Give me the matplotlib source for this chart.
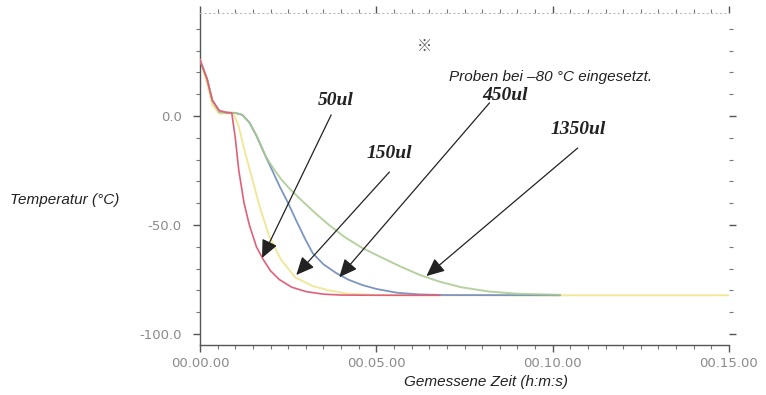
import matplotlib
matplotlib.use("Agg")
import matplotlib.pyplot as plt
from matplotlib.ticker import FixedLocator, MultipleLocator, FuncFormatter

# ---- data (time in minutes, temperature in °C) ----
t_50 = [0, 0.2, 0.35, 0.55, 0.75, 0.9, 1.0, 1.1, 1.25, 1.4, 1.6, 1.8, 2.0, 2.25, 2.6, 3.0, 3.5, 4.0, 5.0, 6.8]
T_50 = [25.7, 17, 7, 2.5, 1.6, 1.4, -10, -25, -40, -50, -60, -66, -71, -75, -78.5, -80.5, -81.7, -82.1, -82.2, -82.2]

t_150 = [0, 0.2, 0.35, 0.55, 0.75, 0.95, 1.1, 1.25, 1.45, 1.7, 1.96, 2.3, 2.7, 3.2, 3.66, 4.2, 5.0, 6.0, 15.0]
T_150 = [25.7, 15, 5, 1.0, 1.2, 1.2, -5, -15, -27, -42, -55, -66, -74, -78, -80, -81.5, -82.1, -82.2, -82.2]

t_450 = [0, 0.2, 0.35, 0.55, 0.8, 1.0, 1.2, 1.4, 1.6, 1.87, 2.05, 2.25, 2.5, 2.73, 3.0, 3.2, 3.5, 3.86, 4.2, 4.6, 5.0, 5.57, 6.2, 7.0, 10.2]
T_450 = [25.7, 17, 7.3, 1.8, 1.5, 1.4, 0.5, -3, -9, -18.8, -25, -32, -40, -48, -57, -63, -68, -72, -75, -77.5, -79.3, -81, -81.8, -82.1, -82.2]

t_1350 = [0, 0.2, 0.35, 0.55, 0.8, 1.0, 1.2, 1.4, 1.6, 1.87, 2.1, 2.3, 2.55, 2.9, 3.3, 3.66, 4.1, 4.6, 5.1, 5.68, 6.25, 6.8, 7.4, 8.2, 9.0, 10.2]
T_1350 = [25.7, 17, 7.3, 1.8, 1.5, 1.4, 0.5, -3, -9, -18.8, -24.5, -29, -33.5, -39, -45, -50, -55.5, -60.5, -64.5, -69, -73, -76, -78.5, -80.5, -81.5, -82.0]

labels = ["50ul", "150ul", "450ul", "1350ul"]
label_pos = [(3.84, 7.3), (5.37, -17.0), (8.64, 9.6), (10.71, -6.4)]
arrow_start = [(3.72, 0.5), (5.37, -25.7), (8.21, 6.0), (10.71, -14.7)]
arrow_tip = [(1.76, -65.1), (2.73, -72.9), (3.95, -73.9), (6.42, -73.4)]

x_major = [0, 5, 10, 15]
y_major = [0, -50, -100]

# ---- figure ----
fig = plt.figure(figsize=(7.66, 3.95), dpi=100)
ax = fig.add_axes([200 / 766, 1 - 345 / 395, 529 / 766, 332 / 395])

ax.plot(t_150, T_150, color="#f1e79a", lw=1.4, zorder=2)
ax.plot(t_450, T_450, color="#7d95c2", lw=1.3, zorder=3)
ax.plot(t_1350, T_1350, color="#a9c98e", lw=1.4, zorder=4, alpha=0.85)
ax.plot(t_50, T_50, color="#e0607a", lw=1.2, zorder=5)

for lab, lp, s, e in zip(labels, label_pos, arrow_start, arrow_tip):
    ax.annotate("", xy=e, xytext=s,
                arrowprops=dict(arrowstyle="-|>,head_length=1.1,head_width=0.5",
                                color="#222222", lw=0.9, shrinkA=0, shrinkB=0),
                zorder=6)
    ax.text(lp[0], lp[1], lab, ha="center", va="center",
            family="Liberation Serif", weight="bold", style="italic",
            fontsize=14, color="#222222", zorder=7)

ax.text(7.07, 17.9, "Proben bei \u201380 \u00b0C eingesetzt.", ha="left", va="center",
        style="italic", family="Liberation Sans", fontsize=11, color="#222222")
ax.text(6.36, 32.0, "\u203b", ha="center", va="center", fontsize=11,
        color="#555555", family=["Noto Sans CJK JP", "DejaVu Sans"])

ax.set_xlim(0, 15)
ax.set_ylim(-105, 47.2)

ax.xaxis.set_major_locator(FixedLocator(x_major))
ax.xaxis.set_minor_locator(MultipleLocator(0.5))
ax.yaxis.set_major_locator(FixedLocator(y_major))
ax.yaxis.set_minor_locator(MultipleLocator(10))


def fmt_time(v, pos):
    m = int(round(v))
    return "00.%02d.00" % m


ax.xaxis.set_major_formatter(FuncFormatter(fmt_time))
ax.yaxis.set_major_formatter(FuncFormatter(lambda v, p: "%.1f" % v))

ax.tick_params(axis="both", which="major", direction="out", length=5, width=1.0,
               colors="#555555", labelcolor="#8a8a8a", labelsize=9.5,
               top=True, right=True)
ax.tick_params(axis="y", which="major", pad=8)
ax.tick_params(axis="both", which="minor", direction="out", length=3, width=0.8,
               colors="#777777", top=True, right=True)
for lbl in ax.get_xticklabels() + ax.get_yticklabels():
    lbl.set_family("DejaVu Sans")

for side in ("left", "bottom"):
    ax.spines[side].set_color("#555555")
    ax.spines[side].set_linewidth(1.0)
ax.spines["top"].set_color("#bbbbbb")
ax.spines["top"].set_linestyle((0, (1, 3)))
ax.spines["right"].set_visible(False)

fig.text(10 / 766, 1 - 200 / 395, "Temperatur (\u00b0C)", ha="left", va="center",
         style="italic", family="Liberation Sans", fontsize=11, color="#222222")
fig.text(486 / 766, 1 - 382 / 395, "Gemessene Zeit (h:m:s)", ha="center", va="center",
         style="italic", family="Liberation Sans", fontsize=11, color="#222222")

fig.savefig("out.png", dpi=100)
